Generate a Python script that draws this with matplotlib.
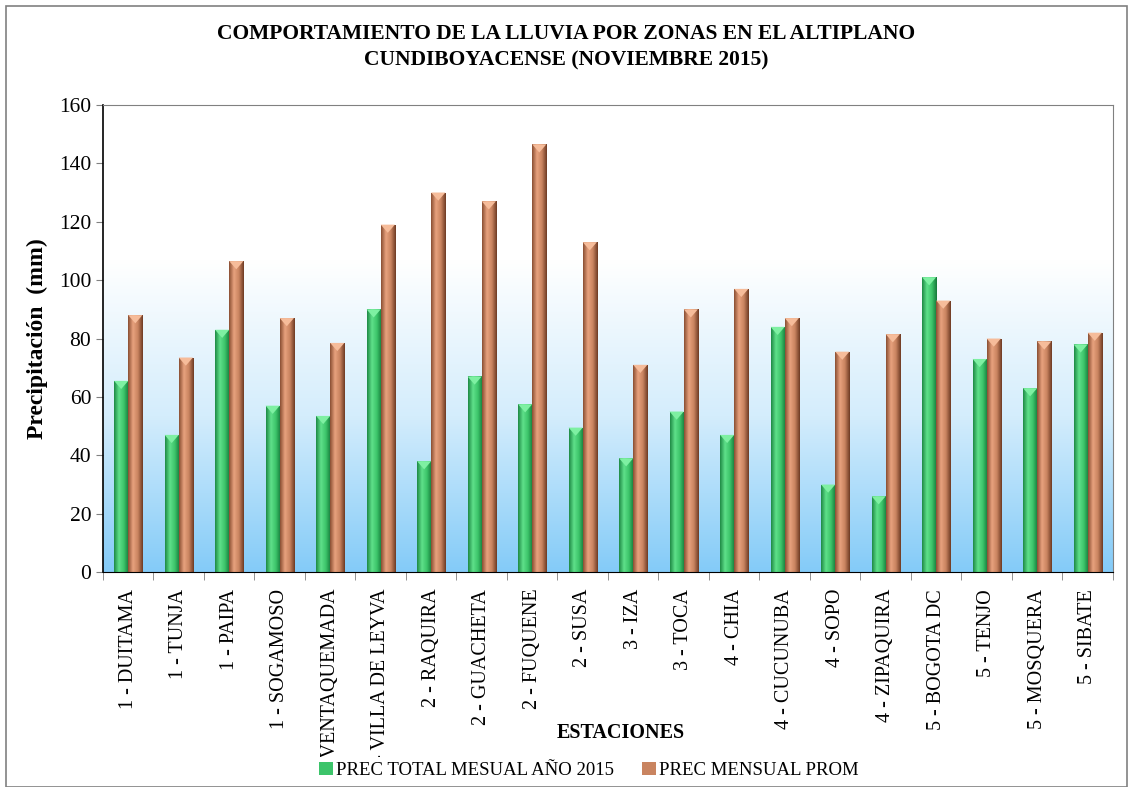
import matplotlib.pyplot as plt
import numpy as np
from matplotlib.patches import Rectangle, Polygon
from matplotlib.colors import LinearSegmentedColormap

plt.rcParams['font.family'] = ['Liberation Serif', 'DejaVu Serif']

estaciones = ["1 - DUITAMA", "1 - TUNJA", "1 - PAIPA", "1 - SOGAMOSO", "1 - VENTAQUEMADA",
              "1 - VILLA DE LEYVA", "2 - RAQUIRA", "2 - GUACHETA", "2 - FUQUENE", "2 - SUSA",
              "3 - IZA", "3 - TOCA", "4 - CHIA", "4 - CUCUNUBA", "4 - SOPO",
              "4 - ZIPAQUIRA", "5 - BOGOTA DC", "5 - TENJO", "5 - MOSQUERA", "5 - SIBATE"]
prec_2015 = [65.5, 47, 83, 57, 53.5, 90, 38, 67, 57.5, 49.5,
             39, 55, 47, 84, 30, 26, 101, 73, 63, 78]
prec_prom = [88, 73.5, 106.5, 87, 78.5, 119, 130, 127, 146.5, 113,
             71, 90, 97, 87, 75.5, 81.5, 93, 80, 79, 82]

fig = plt.figure(figsize=(11.33, 7.87), dpi=100)
ax = fig.add_axes([0.0909, 0.273, 0.8914, 0.5937])

n = len(estaciones)
x = np.arange(n)
w = 0.28

ax.set_xlim(-0.5, n - 0.5)
ax.set_ylim(0, 160)

# fondo degradado: azul claro abajo, blanco arriba
bg = LinearSegmentedColormap.from_list("bg", ["#84CBF8", "#D4EDFC", "#FFFFFF", "#FFFFFF"])
grad = np.linspace(0, 1, 256).reshape(-1, 1)
ax.imshow(grad, extent=(-0.5, n - 0.5, 0, 160), origin="lower", cmap=bg,
          aspect="auto", zorder=0)

green_cm = LinearSegmentedColormap.from_list("g", ["#1E8A45", "#5FE08A", "#3CC46A", "#15783A"])
brown_cm = LinearSegmentedColormap.from_list("b", ["#8A4F33", "#E8A27E", "#C98460", "#6E3B24"])
hgrad = np.linspace(0, 1, 64).reshape(1, -1)


def cyl_bar(xc, h, cmap, topc):
    left = xc - w / 2
    r = Rectangle((left, 0), w, h, facecolor="none", edgecolor="none")
    ax.add_patch(r)
    im = ax.imshow(hgrad, extent=(left, left + w, 0, h), cmap=cmap,
                   aspect="auto", zorder=2)
    im.set_clip_path(r)
    tri = Polygon([(left, h), (left + w, h), (xc, h - 2.8)], closed=True,
                  facecolor=topc, edgecolor="none", zorder=3)
    ax.add_patch(tri)


for i in range(n):
    cyl_bar(x[i] - w / 2, prec_2015[i], green_cm, "#7EF0A2")
    cyl_bar(x[i] + w / 2, prec_prom[i], brown_cm, "#F6BC9A")

# proxies para la leyenda
ax.bar([0], [0], color="#3CC46A", label="PREC TOTAL MESUAL AÑO 2015")
ax.bar([0], [0], color="#C98460", label="PREC MENSUAL PROM")

ax.set_yticks(np.arange(0, 161, 20))
ax.tick_params(axis="y", labelsize=15.5, direction="out", length=5, color="#808080")
ax.set_xticks(x)
ax.set_xticklabels(estaciones, rotation=90, fontsize=14.5, va="top")
ax.tick_params(axis="x", length=0, pad=12)
ax.set_xticks(np.arange(-0.5, n, 1), minor=True)
ax.tick_params(axis="x", which="minor", length=6, color="#808080")

for lbl in ax.get_xticklabels():
    lbl.set_clip_path(Rectangle((0, 0.038), 1, 0.3, transform=fig.transFigure))

for s in ["top", "right"]:
    ax.spines[s].set_color("#808080")
ax.spines["left"].set_color("black")
ax.spines["bottom"].set_color("black")
ax.spines["left"].set_linewidth(1.2)

ax.set_ylabel("Precipitación  (mm)", fontsize=17, fontweight="bold", labelpad=8)
fig.text(0.548, 0.068, "ESTACIONES", ha="center", va="center",
         fontsize=14.5, fontweight="bold")
fig.text(0.5, 0.94, "COMPORTAMIENTO DE LA LLUVIA POR ZONAS EN EL ALTIPLANO\nCUNDIBOYACENSE (NOVIEMBRE 2015)",
         ha="center", va="center", fontsize=15.5, fontweight="bold", linespacing=1.4)

ax.legend(loc="center", bbox_to_anchor=(0.52, 0.021), bbox_transform=fig.transFigure,
          ncol=2, frameon=False, fontsize=13.5, handlelength=0.7, handleheight=0.7,
          handletextpad=0.2, columnspacing=1.5)

fig.patches.append(Rectangle((0.005, 0.0), 0.99, 0.992, transform=fig.transFigure,
                             fill=False, edgecolor="#808080", linewidth=1.2))

fig.savefig("out.png", dpi=100)
